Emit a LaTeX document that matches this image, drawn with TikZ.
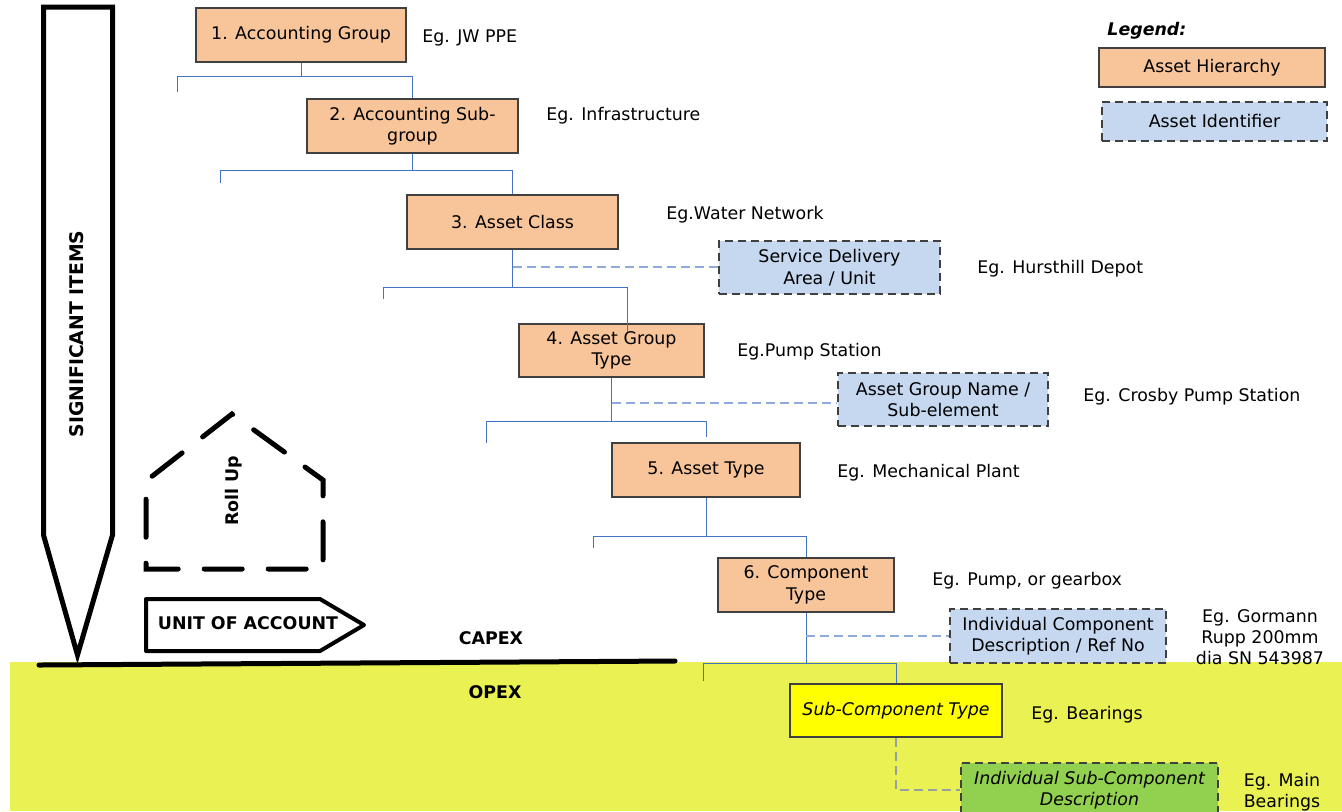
\documentclass[tikz,border=0pt]{standalone}
\usepackage{fontspec}
\setmainfont{DejaVu Sans}
\usepackage{xcolor}
\usetikzlibrary{calc}

\definecolor{hierfill}{RGB}{248,197,154}
\definecolor{identfill}{RGB}{197,216,239}
\definecolor{subfill}{RGB}{255,255,0}
\definecolor{isubfill}{RGB}{146,208,80}
\definecolor{opexfill}{RGB}{233,242,82}
\definecolor{boxline}{RGB}{64,64,64}
\definecolor{linkblue}{RGB}{68,114,196}
\definecolor{idblue}{RGB}{143,170,220}
\definecolor{idgray}{RGB}{150,160,160}

\tikzset{
    hier/.style={draw=boxline, line width=0.6pt, fill=hierfill, align=center, inner sep=1pt},
    ident/.style={hier, fill=identfill, dash pattern=on 4pt off 2.5pt},
    eg/.style={anchor=west, inner sep=0pt, yshift=-1pt},
    slanted/.style={font=\itshape\fontsize{8.7}{10.8}\selectfont},
    link/.style={draw=linkblue, line width=0.5pt},
    idlink/.style={draw=idblue, line width=0.6pt, dash pattern=on 4.5pt off 2.5pt},
    heavy/.style={line width=2.5pt},
    tag/.style={font=\bfseries\fontsize{8.7}{10}\selectfont, inner sep=0pt}
}

\begin{document}
\begin{tikzpicture}[x=0.5pt, y=-0.5pt, font=\fontsize{8.7}{10.8}\selectfont]
                    \clip (0, 0) rectangle (1342, 811);

                    % opex band and capex line
                    \fill[opexfill] (10, 662) rectangle (1342, 811);
                    \draw[heavy, line cap=round] (39, 665) -- (675, 661);
                    \node[tag] (capex) at (491, 638) {CAPEX};
                    \node[tag] (opex) at (495, 692) {OPEX};

                    % significant items pointer
                    \draw[heavy, miter limit=20] (43.5, 7) -- (112.5, 7) -- (112.5, 535) -- (77.5, 655) -- (43.5, 535) -- cycle;
                    \node[tag, font=\bfseries\fontsize{9.4}{10}\selectfont, rotate=90] (sig) at (77, 334) {SIGNIFICANT ITEMS};

                    % roll up house
                    \draw[heavy, line cap=round, dash pattern=on 19pt off 13pt]
                    (305, 467) -- (323, 480) -- (323, 569) -- (146, 569) -- (146, 481) -- (232, 414) -- cycle;
                    \node[tag, rotate=90] (rollup) at (234, 491) {Roll Up};

                    % unit of account tag
                    \draw[line width=2pt, line join=round]
                    (146, 599) -- (320, 599) -- (364, 625) -- (320, 651) -- (146, 651) -- cycle;
                    \node[tag] (unit) at (248, 623) {UNIT OF ACCOUNT};

                    % hierarchy boxes
                    \node[hier, minimum width=105pt, minimum height=27pt] (acc) at (301, 35) {1. Accounting Group};
                    \node[hier, minimum width=105.5pt, minimum height=27pt] (sub) at (412.5, 126) {2. Accounting Sub-\\group};
                    \node[hier, minimum width=105.5pt, minimum height=27pt] (cls) at (512.5, 222) {3. Asset Class};
                    \node[hier, minimum width=92.5pt, minimum height=26.5pt] (grp) at (611.5, 350.5) {4. Asset Group\\Type};
                    \node[hier, minimum width=94pt, minimum height=27pt] (typ) at (706, 470) {5. Asset Type};
                    \node[hier, minimum width=88pt, minimum height=27pt] (cmp) at (806, 585) {6. Component\\Type};
                    \node[hier, slanted, fill=subfill, minimum width=106pt, minimum height=26.5pt] (sct) at (896, 710.5) {Sub-Component Type};

                    % identifier boxes
                    \node[ident, minimum width=110.5pt, minimum height=26.5pt] (sdu) at (829.5, 267.5) {Service Delivery\\Area / Unit};
                    \node[ident, minimum width=105pt, minimum height=26.5pt] (agn) at (943, 399.5) {Asset Group Name /\\Sub-element};
                    \node[ident, minimum width=108pt, minimum height=27pt] (icd) at (1058, 636) {Individual Component\\Description / Ref No};
                    \node[ident, slanted, fill=isubfill, minimum width=128.5pt, minimum height=27pt] (isd) at (1089.5, 790) {Individual Sub-Component\\Description};

                    % examples
                    \node[eg] (egacc) at (422, 36) {Eg. JW PPE};
                    \node[eg] (egsub) at (546, 114) {Eg. Infrastructure};
                    \node[eg] (egcls) at (666, 213) {Eg.Water Network};
                    \node[eg] (egsdu) at (977, 267) {Eg. Hursthill Depot};
                    \node[eg] (eggrp) at (737, 350) {Eg.Pump Station};
                    \node[eg] (egagn) at (1083, 395) {Eg. Crosby Pump Station};
                    \node[eg] (egtyp) at (837, 471) {Eg. Mechanical Plant};
                    \node[eg] (egcmp) at (932, 579) {Eg. Pump, or gearbox};
                    \node[inner sep=0pt, align=center, font=\fontsize{8.7}{10.5}\selectfont] (egicd) at (1260, 637.5) {Eg. Gormann\\Rupp 200mm\\dia SN 543987};
                    \node[eg] (egsct) at (1031, 713) {Eg. Bearings};
                    \node[inner sep=0pt, align=center, font=\fontsize{8.7}{10.5}\selectfont] (egisd) at (1282, 792.5) {Eg. Main\\Bearings};

                    % legend
                    \node[eg, font=\bfseries\itshape\fontsize{8.7}{10}\selectfont] (legend) at (1107, 29) {Legend:};
                    \node[hier, minimum width=113pt, minimum height=19.5pt] (leghier) at (1212, 67.5) {Asset Hierarchy};
                    \node[ident, minimum width=112.5pt, minimum height=19.5pt] (legident) at (1214.5, 121.5) {Asset Identifier};

                    % free ends of the tree bars
                    \coordinate (s1) at (177, 92);
                    \coordinate (s2) at (220, 183);
                    \coordinate (s3) at (383, 299);
                    \coordinate (e3) at (627, 332);
                    \coordinate (s4) at (486, 443);
                    \coordinate (e4) at (706, 437);
                    \coordinate (s5) at (593, 548);
                    \coordinate (s6) at (703, 681);

                    \draw[link] (acc.south) -- (acc.south |- 0, 76);
                    \draw[link] (s1) |- (sub.north |- 0, 76) -- (sub.north);
                    \draw[link] (sub.south) -- (sub.south |- 0, 170);
                    \draw[link] (s2) |- (cls.north |- 0, 170) -- (cls.north);
                    \draw[link] (cls.south) -- (cls.south |- 0, 287);
                    \draw[link] (s3) |- (e3 |- 0, 287) -- (e3);
                    \draw[link] (grp.south) -- (grp.south |- 0, 421);
                    \draw[link] (s4) |- (e4 |- 0, 421) -- (e4);
                    \draw[link] (typ.south) -- (typ.south |- 0, 536);
                    \draw[link] (s5) |- (cmp.north |- 0, 536) -- (cmp.north);
                    \draw[link] (cmp.south) -- (cmp.south |- 0, 663);
                    \draw[link] (s6) |- (sct.north |- 0, 663) -- (sct.north);

                    % identifier links
                    \draw[idlink] (cls.south |- 0, 267) -- (sdu.west |- 0, 267);
                    \draw[idlink] (grp.south |- 0, 403) -- (agn.west |- 0, 403);
                    \draw[idlink] (cmp.south |- icd.west) -- (icd.west);
                    \draw[idlink, draw=idgray] (sct.south) |- (isd.west);
                \end{tikzpicture}
\end{document}
